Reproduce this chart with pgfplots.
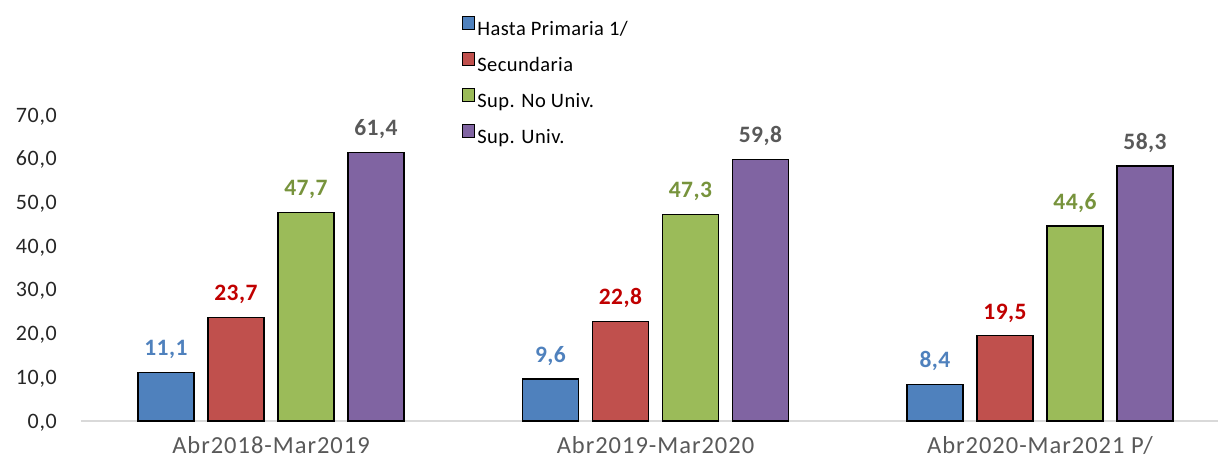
\documentclass[border=0pt]{standalone}
\usepackage{pgfplots}
\pgfplotsset{compat=1.18}
\usepackage{fontspec}
\setmainfont{Carlito}
\newfontfamily\tickfont[LetterSpace=3]{Carlito}
\newfontfamily\catfont[LetterSpace=4]{Carlito}
\newfontfamily\legfont[LetterSpace=2]{Carlito}
\newfontfamily\valfont[LetterSpace=2]{Carlito Bold}
\definecolor{cblue}{HTML}{4F81BD}
\definecolor{cred}{HTML}{C0504D}
\definecolor{cgreen}{HTML}{9BBB59}
\definecolor{cpurple}{HTML}{8064A2}
\definecolor{lred}{HTML}{C00000}
\definecolor{lgreen}{HTML}{77933C}
\definecolor{lgray}{HTML}{595959}
\definecolor{tgray}{HTML}{262626}
\begin{document}
\begin{tikzpicture}
\begin{axis}[
  scale only axis, width=1137pt, height=306pt,
  ymin=0, ymax=70, xmin=-0.494, xmax=2.463,
  ybar=14pt, bar width=56pt,
  xtick={0,1,2},
  xticklabels={Abr2018-Mar2019,Abr2019-Mar2020,Abr2020-Mar2021 P/},
  ytick={0,10,...,70},
  axis x line*=bottom, axis y line*=left,
  axis line style={-},
  x axis line style={draw=black!15, line width=1.3pt},
  y axis line style={draw=none},
  major tick length=0pt,
  tick style={draw=none},
  clip=false,
  /pgf/number format/.cd, fixed, fixed zerofill, precision=1, use comma, assume math mode=true,
  /pgfplots/.cd,
  yticklabel style={font=\fontsize{22}{24}\tickfont, text=tgray, anchor=base east, inner sep=0pt, xshift=-24pt, yshift=-7pt},
  xticklabel style={font=\fontsize{24.5}{27}\catfont, text=lgray, anchor=base, inner sep=0pt, yshift=-32.5pt},
  nodes near coords,
  every node near coord/.append style={font=\fontsize{23.5}{25}\valfont, anchor=base, inner sep=0pt, yshift=16.6pt},
  legend style={at={(rel axis cs:0.332,1.33)}, anchor=north west, draw=none, fill=none,
    font=\fontsize{20.5}{22}\legfont, text=black, row sep=13pt,
    /tikz/every even column/.append style={column sep=8pt}},
  legend cell align=left,
  legend image code/.code={\draw[#1,draw=black,line width=1.2pt] (0pt,0pt) rectangle (12.5pt,12.5pt);},
]
\addplot[fill=cblue, draw=black, line width=1.3pt, every node near coord/.append style={text=cblue}] coordinates {(0,11.1) (1,9.6) (2,8.4)};
\addplot[fill=cred, draw=black, line width=1.3pt, every node near coord/.append style={text=lred}] coordinates {(0,23.7) (1,22.8) (2,19.5)};
\addplot[fill=cgreen, draw=black, line width=1.3pt, every node near coord/.append style={text=lgreen}] coordinates {(0,47.7) (1,47.3) (2,44.6)};
\addplot[fill=cpurple, draw=black, line width=1.3pt, every node near coord/.append style={text=lgray}] coordinates {(0,61.4) (1,59.8) (2,58.3)};
\legend{Hasta Primaria 1/,Secundaria,Sup. No Univ.,Sup. Univ.}
\end{axis}
\pgfresetboundingbox
\useasboundingbox (-81pt,-37pt) rectangle (1137pt,421pt);
\end{tikzpicture}
\end{document}
